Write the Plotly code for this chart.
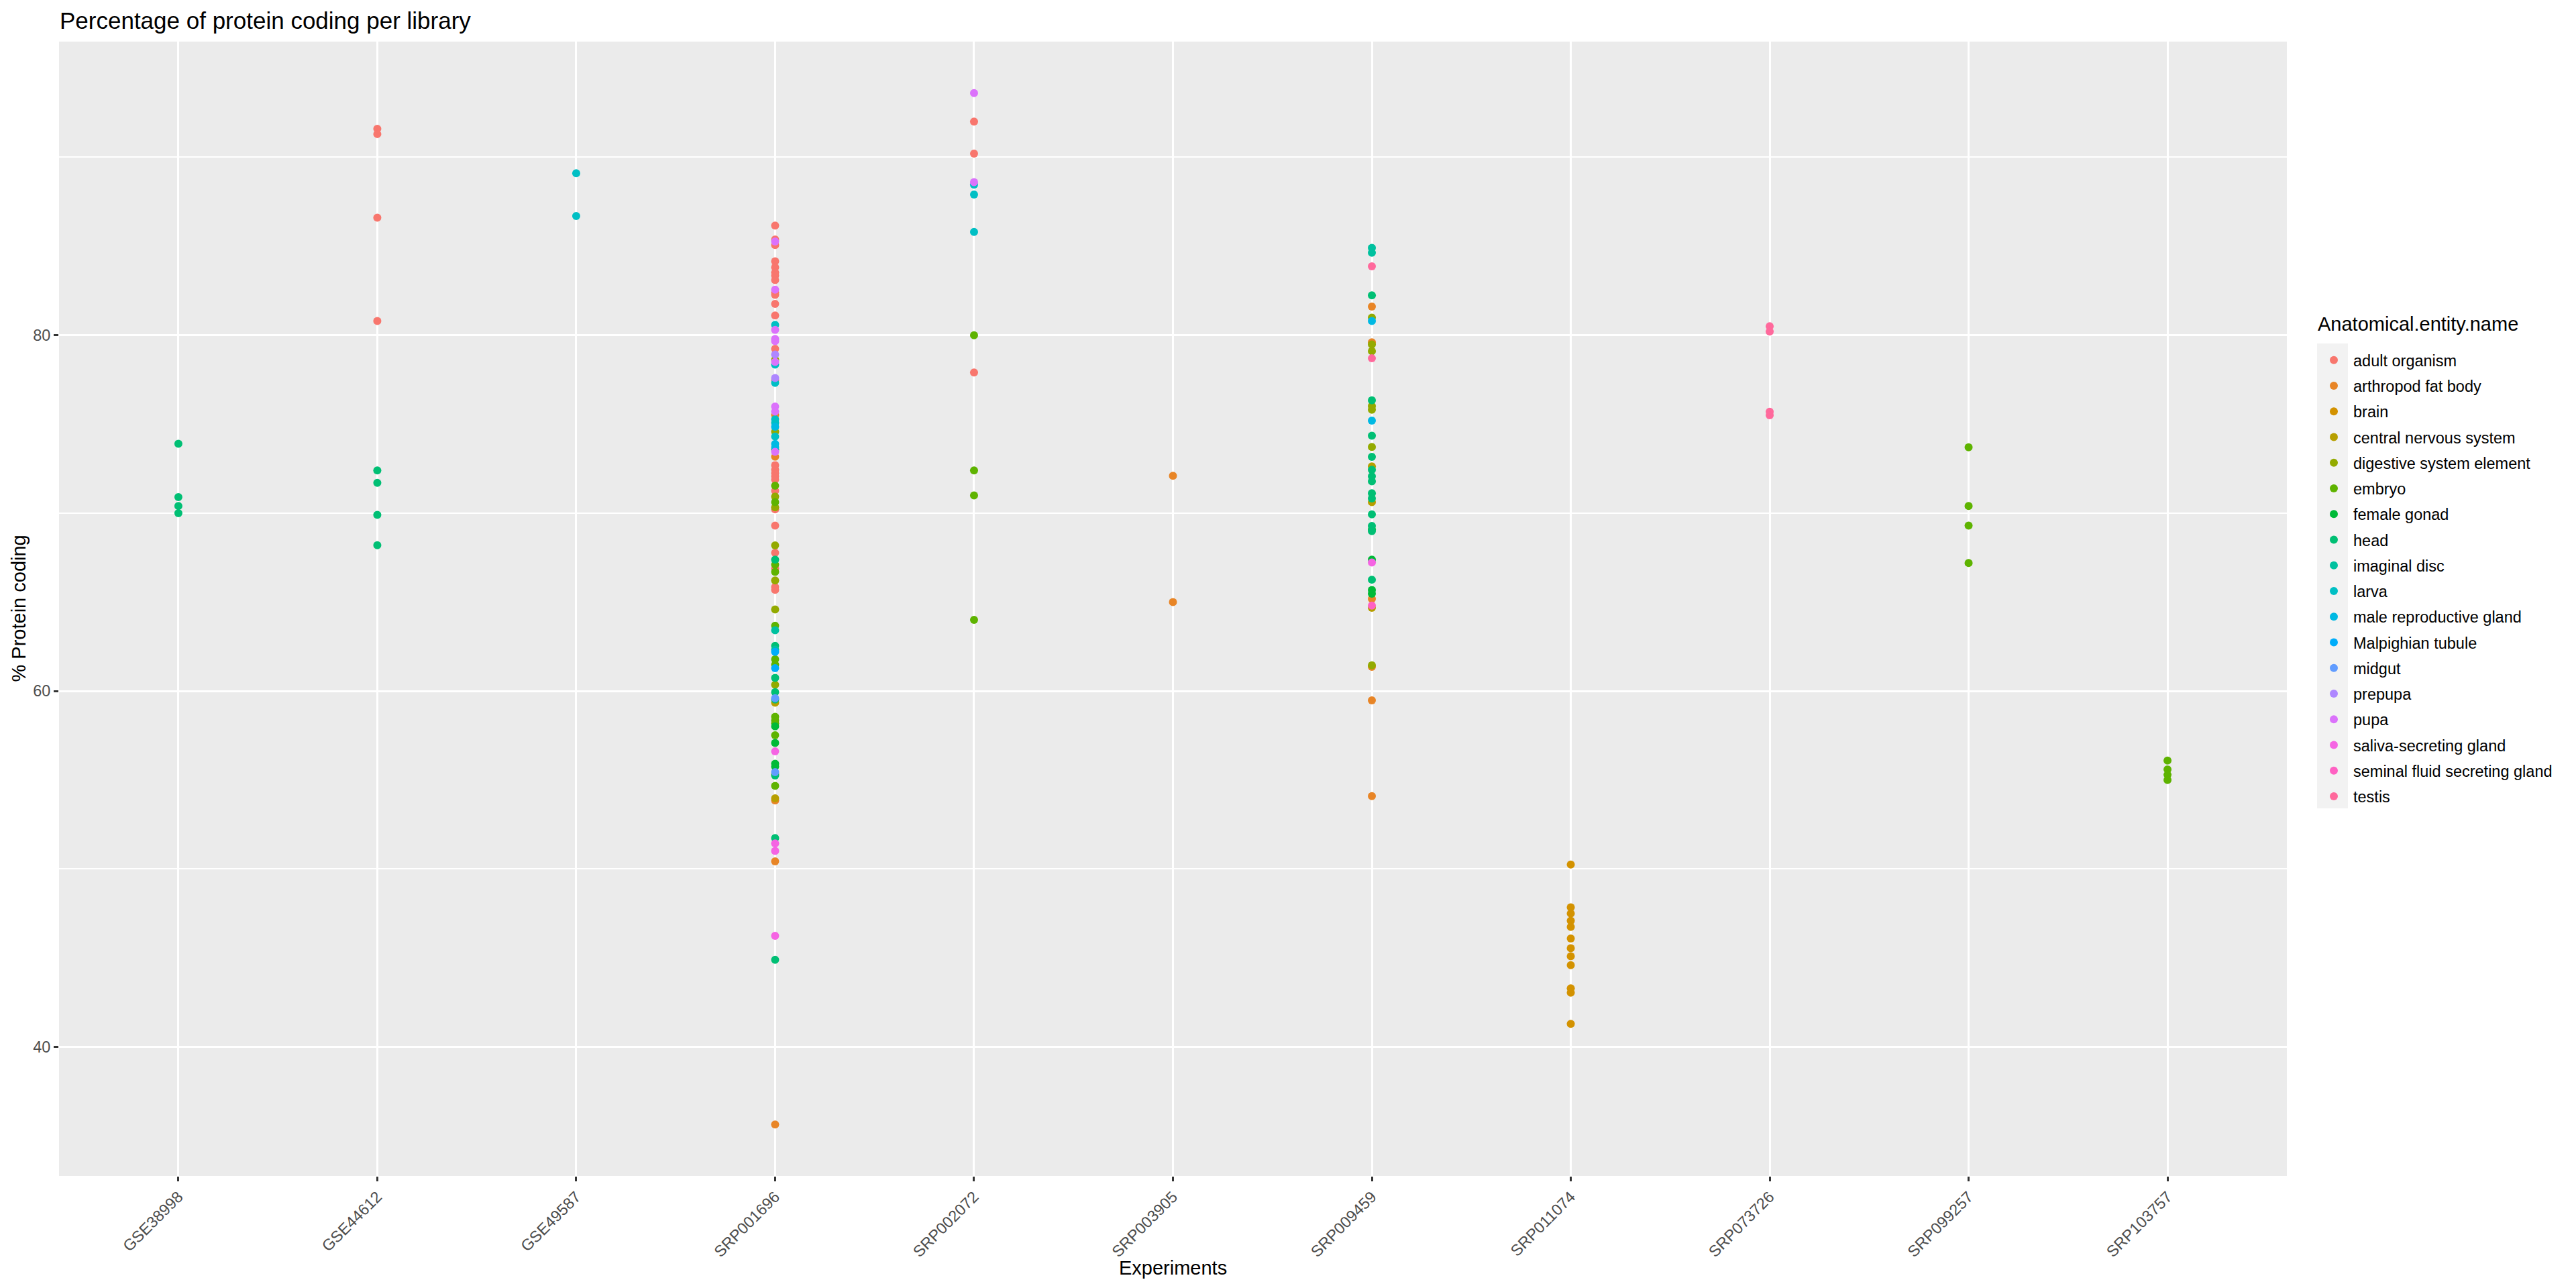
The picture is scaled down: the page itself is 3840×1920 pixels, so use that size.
import math
import plotly.graph_objects as go

experiments = ["GSE38998", "GSE44612", "GSE49587", "SRP001696", "SRP002072", "SRP003905",
               "SRP009459", "SRP011074", "SRP073726", "SRP099257", "SRP103757"]

entities = ["adult organism", "arthropod fat body", "brain", "central nervous system",
            "digestive system element", "embryo", "female gonad", "head", "imaginal disc",
            "larva", "male reproductive gland", "Malpighian tubule", "midgut", "prepupa",
            "pupa", "saliva-secreting gland", "seminal fluid secreting gland", "testis"]

# values per entity: experiment list + % protein coding list
adult_organism_exp = ["GSE44612"] * 4 + ["SRP001696"] * 26 + ["SRP002072"] * 3
adult_organism_val = [91.6, 91.3, 86.6, 80.8,
                      86.16, 85.38, 85.07, 84.15, 83.81, 83.52, 83.35, 83.10, 82.39, 82.27,
                      81.76, 81.11, 79.23, 77.47, 72.69, 72.44, 72.25, 72.07, 71.88, 71.25,
                      70.21, 69.30, 67.77, 66.89, 65.85, 65.69,
                      92.0, 90.2, 77.9]

fat_body_exp = ["SRP001696"] * 5 + ["SRP003905"] * 2 + ["SRP009459"] * 6
fat_body_val = [75.52, 73.17, 53.85, 50.43, 35.65,
                72.1, 65.0,
                81.61, 79.6, 65.18, 61.36, 59.48, 54.1]

brain_exp = ["SRP011074"] * 12
brain_val = [50.25, 47.85, 47.5, 47.1, 46.75, 46.1, 45.55, 45.1, 44.6, 43.3, 43.05, 41.3]

cns_exp = ["SRP001696"] * 3 + ["SRP009459"] * 3
cns_val = [59.35, 55.33, 53.98, 72.63, 70.62, 64.68]

digestive_exp = ["SRP001696"] * 8 + ["SRP009459"] * 7
digestive_val = [78.62, 74.58, 70.93, 70.33, 68.19, 66.22, 64.59, 60.36,
                 80.99, 79.48, 79.1, 76.02, 75.81, 73.72, 61.45]

embryo_exp = ["SRP001696"] * 12 + ["SRP002072"] * 4 + ["SRP099257"] * 4 + ["SRP103757"] * 4
embryo_val = [71.54, 70.62, 67.10, 66.70, 63.67, 61.79, 61.49, 58.56, 58.35, 58.19, 57.52, 54.67,
              80.0, 72.4, 71.0, 64.0,
              73.7, 70.4, 69.3, 67.2,
              56.1, 55.6, 55.3, 55.0]

female_gonad_exp = ["SRP001696"] * 5 + ["SRP009459"] * 4
female_gonad_val = [73.57, 58.02, 57.09, 55.92, 55.76, 69.08, 67.39, 65.68, 65.47]

head_exp = ["GSE38998"] * 4 + ["GSE44612"] * 4 + ["SRP001696"] * 8 + ["SRP009459"] * 13
head_val = [73.9, 70.9, 70.4, 70.0,
            72.4, 71.7, 69.9, 68.2,
            67.39, 62.54, 60.74, 59.94, 59.53, 55.26, 51.74, 44.9,
            82.24, 76.34, 74.35, 73.16, 72.44, 72.07, 71.79, 71.12, 70.83, 69.93, 69.28, 68.99, 66.26]

imaginal_disc_exp = ["SRP001696"] * 2 + ["SRP009459"] * 2
imaginal_disc_val = [63.42, 62.33, 84.91, 84.63]

larva_exp = ["GSE49587"] * 2 + ["SRP001696"] * 6 + ["SRP002072"] * 3
larva_val = [89.1, 86.7, 80.58, 78.35, 77.32, 75.27, 75.08, 74.30, 88.46, 87.9, 85.8]

male_gland_exp = ["SRP001696"] * 3 + ["SRP009459"] * 2
male_gland_val = [74.85, 73.89, 73.70, 80.8, 75.2]

malpighian_exp = ["SRP001696"] * 2
malpighian_val = [62.20, 61.29]

midgut_exp = ["SRP001696"] * 2
midgut_val = [59.60, 55.45]

prepupa_exp = ["SRP001696"] * 2
prepupa_val = [78.91, 77.59]

pupa_exp = ["SRP001696"] * 9 + ["SRP002072"] * 2
pupa_val = [85.26, 82.56, 80.30, 79.79, 79.67, 78.50, 75.99, 75.71, 73.45, 93.6, 88.6]

saliva_exp = ["SRP001696"] * 4 + ["SRP009459"]
saliva_val = [56.61, 51.44, 51.02, 46.25, 67.23]

seminal_exp = ["SRP009459"]
seminal_val = [64.80]

testis_exp = ["SRP009459"] * 2 + ["SRP073726"] * 4
testis_val = [83.87, 78.7, 80.5, 80.2, 75.7, 75.5]

series = [
    (adult_organism_exp, adult_organism_val), (fat_body_exp, fat_body_val),
    (brain_exp, brain_val), (cns_exp, cns_val), (digestive_exp, digestive_val),
    (embryo_exp, embryo_val), (female_gonad_exp, female_gonad_val), (head_exp, head_val),
    (imaginal_disc_exp, imaginal_disc_val), (larva_exp, larva_val),
    (male_gland_exp, male_gland_val), (malpighian_exp, malpighian_val),
    (midgut_exp, midgut_val), (prepupa_exp, prepupa_val), (pupa_exp, pupa_val),
    (saliva_exp, saliva_val), (seminal_exp, seminal_val), (testis_exp, testis_val),
]


def hcl_hex(h, c=100.0, l=65.0):
    hr = math.radians(h)
    u = c * math.cos(hr)
    v = c * math.sin(hr)
    Xn, Yn, Zn = 95.047, 100.0, 108.883
    den = Xn + 15 * Yn + 3 * Zn
    un, vn = 4 * Xn / den, 9 * Yn / den
    Y = Yn * ((l + 16) / 116) ** 3
    up = u / (13 * l) + un
    vp = v / (13 * l) + vn
    X = Y * 9 * up / (4 * vp)
    Z = Y * (12 - 3 * up - 20 * vp) / (4 * vp)
    X, Y, Z = X / 100, Y / 100, Z / 100
    r = 3.240479 * X - 1.537150 * Y - 0.498535 * Z
    g = -0.969256 * X + 1.875992 * Y + 0.041556 * Z
    b = 0.055648 * X - 0.204043 * Y + 1.057311 * Z

    def gam(t):
        t = 12.92 * t if t <= 0.0031308 else 1.055 * t ** (1 / 2.4) - 0.055
        return int(round(min(max(t, 0), 1) * 255))
    return "#%02X%02X%02X" % (gam(r), gam(g), gam(b))


n = len(entities)
colors = [hcl_hex(15 + 360 * i / n) for i in range(n)]

FONT = "Liberation Sans, Arial, Helvetica, sans-serif"

fig = go.Figure()
for name, (xs, ys), col in zip(entities, series, colors):
    fig.add_trace(go.Scatter(
        x=xs, y=ys, mode="markers", name=name, legendgroup=name,
        marker=dict(color=col, size=12, line=dict(width=0)),
    ))

all_vals = [v for _, ys in series for v in ys]
lo, hi = min(all_vals), max(all_vals)
pad = (hi - lo) * 0.05

W, H = 3840, 1920
L, R, T, B = 88, 431, 62, 167
pw, ph = W - L - R, H - T - B


def px_x(p):
    return (p - L) / pw


def px_y(p):
    return (H - B - p) / ph


fig.update_layout(
    width=W, height=H, autosize=False,
    margin=dict(l=L, r=R, t=T, b=B, pad=0),
    paper_bgcolor="white", plot_bgcolor="#EBEBEB",
    font=dict(family=FONT, size=24, color="black"),
    title=dict(text="Percentage of protein coding per library", x=89 / W, xanchor="left",
               y=1 - 31 / H, yanchor="middle", xref="container", yref="container",
               pad=dict(l=0, r=0, t=0, b=0),
               font=dict(size=35, color="black")),
    xaxis=dict(
        type="category", categoryorder="array", categoryarray=experiments,
        range=[-0.6, len(experiments) - 0.4],
        showgrid=True, gridcolor="white", gridwidth=3.3, zeroline=False,
        ticks="outside", ticklen=7, tickwidth=2.5, tickcolor="#333333",
        tickangle=-45, tickfont=dict(size=23.5, color="#4D4D4D"),
        showline=False, automargin=False,
    ),
    yaxis=dict(
        range=[lo - pad, hi + pad], tickvals=[40, 60, 80],
        showgrid=True, gridcolor="white", gridwidth=3.3, zeroline=False,
        minor=dict(tickvals=[50, 70, 90], showgrid=True, gridcolor="white", gridwidth=1.7, ticks=""),
        ticks="outside", ticklen=7, tickwidth=2.5, tickcolor="#333333",
        tickfont=dict(size=23.5, color="#4D4D4D"),
        showline=False, automargin=False,
    ),
    showlegend=True,
    legend=dict(
        x=px_x(3450), xanchor="left", y=px_y(515), yanchor="top",
        font=dict(size=23.5, color="black"), tracegroupgap=4.7, itemwidth=48,
        bgcolor="rgba(0,0,0,0)", borderwidth=0, itemsizing="trace",
    ),
    annotations=[
        dict(text="Anatomical.entity.name", xref="paper", yref="paper",
             x=px_x(3453), y=px_y(483), xanchor="left", yanchor="middle",
             showarrow=False, font=dict(size=29, color="black")),
        dict(text="Experiments", xref="paper", yref="paper",
             x=px_x(1748), y=px_y(1890), xanchor="center", yanchor="middle",
             showarrow=False, font=dict(size=29, color="black")),
        dict(text="% Protein coding", xref="paper", yref="paper",
             x=px_x(27), y=px_y((T + H - B) / 2), xanchor="center", yanchor="middle",
             textangle=-90, showarrow=False, font=dict(size=29, color="black")),
    ],
    shapes=[dict(type="rect", xref="paper", yref="paper",
                 x0=px_x(3454), x1=px_x(3500), y0=px_y(1205), y1=px_y(512),
                 fillcolor="#F2F2F2", line=dict(width=0), layer="below")],
)

fig.write_html("out.html", config={"displayModeBar": False},
               post_script="document.body.style.margin='0';")
